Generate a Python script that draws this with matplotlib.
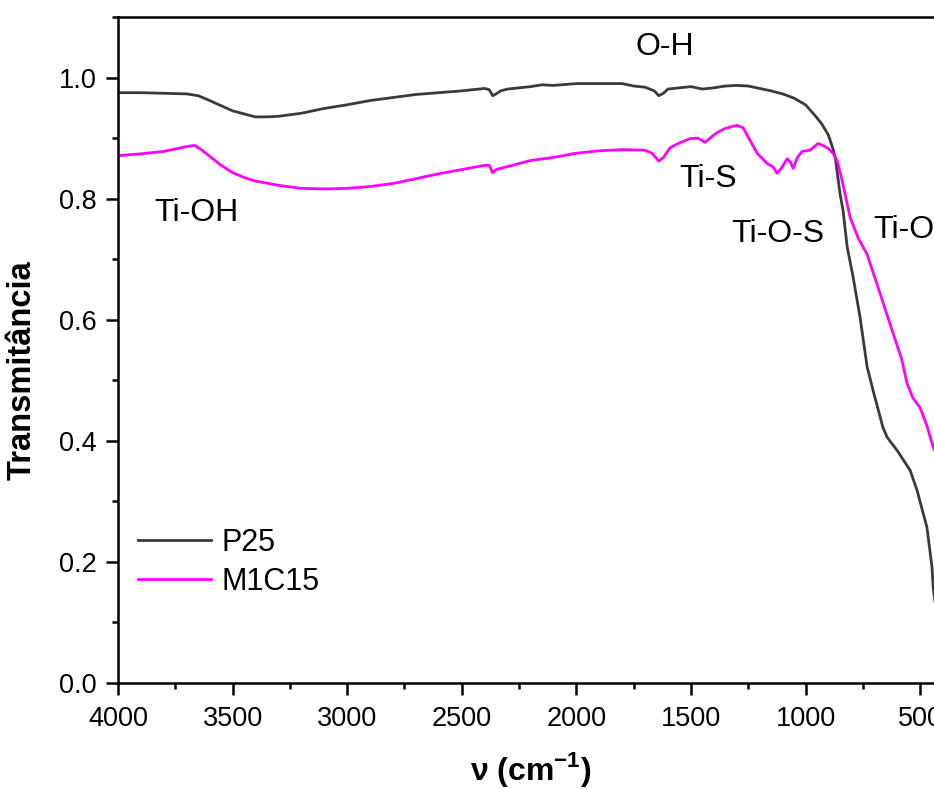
import matplotlib
matplotlib.use("Agg")
import matplotlib.pyplot as plt
from matplotlib.ticker import MultipleLocator

plt.rcParams['font.family'] = ['Liberation Sans', 'DejaVu Sans']

# FTIR spectra
wn_p25 = [4000, 3900, 3800, 3700, 3650, 3600, 3500, 3400, 3350, 3300, 3200, 3100,
          3000, 2900, 2800, 2700, 2600, 2500, 2400, 2380, 2365, 2350, 2330, 2300,
          2200, 2150, 2100, 2000, 1900, 1800, 1750, 1700, 1660, 1640, 1620, 1600,
          1550, 1500, 1450, 1400, 1350, 1300, 1250, 1200, 1150, 1100, 1050, 1000,
          960, 930, 900, 880, 870, 850, 836, 818, 792, 762, 731, 705, 662, 644,
          600, 543, 513, 470, 448, 443, 430, 400]
t_p25 = [0.975, 0.975, 0.974, 0.973, 0.970, 0.962, 0.945, 0.935, 0.935, 0.936, 0.941, 0.949,
         0.955, 0.962, 0.967, 0.972, 0.975, 0.978, 0.982, 0.980, 0.970, 0.973, 0.978, 0.981,
         0.985, 0.988, 0.987, 0.990, 0.990, 0.990, 0.986, 0.984, 0.978, 0.970, 0.974, 0.981,
         0.983, 0.985, 0.981, 0.983, 0.986, 0.987, 0.986, 0.982, 0.978, 0.973, 0.966, 0.955,
         0.938, 0.924, 0.905, 0.882, 0.868, 0.810, 0.780, 0.720, 0.670, 0.604, 0.522, 0.483, 0.422, 0.406,
         0.384, 0.351, 0.318, 0.257, 0.191, 0.158, 0.120, 0.050]

wn_m1c15 = [4000, 3900, 3800, 3750, 3700, 3665, 3640, 3600, 3550, 3500, 3450, 3400,
            3300, 3200, 3100, 3000, 2900, 2800, 2700, 2600, 2500, 2400, 2380, 2365,
            2350, 2330, 2300, 2200, 2100, 2000, 1900, 1800, 1700, 1670, 1640, 1620,
            1591, 1550, 1504, 1470, 1438, 1410, 1386, 1350, 1300, 1272, 1240, 1211,
            1167, 1140, 1124, 1105, 1080, 1065, 1054, 1035, 1015, 980, 945, 925,
            901, 880, 862, 840, 805, 770, 731, 675, 618, 580, 557, 530, 500, 470,
            443, 420, 400]
t_m1c15 = [0.871, 0.874, 0.878, 0.882, 0.886, 0.888, 0.882, 0.870, 0.855, 0.843, 0.835, 0.829,
           0.822, 0.817, 0.816, 0.817, 0.820, 0.825, 0.833, 0.841, 0.848, 0.855, 0.855, 0.843,
           0.848, 0.850, 0.853, 0.863, 0.868, 0.875, 0.879, 0.881, 0.880, 0.875, 0.862, 0.868,
           0.884, 0.892, 0.899, 0.900, 0.893, 0.902, 0.909, 0.916, 0.921, 0.917, 0.895, 0.875,
           0.858, 0.852, 0.842, 0.850, 0.866, 0.860, 0.850, 0.868, 0.878, 0.880, 0.891, 0.888,
           0.883, 0.875, 0.863, 0.830, 0.769, 0.735, 0.708, 0.644, 0.578, 0.535, 0.495, 0.470, 0.455, 0.425,
           0.390, 0.370, 0.340]

labels = ["O-H", "Ti-OH", "Ti-S", "Ti-O-S", "Ti-O"]
label_x = [1613, 3660, 1425, 1120, 705]
label_y = [1.05, 0.776, 0.833, 0.741, 0.749]
label_ha = ["center", "center", "center", "center", "left"]

fig = plt.figure(figsize=(9.34, 7.89), dpi=100)
ax = fig.add_axes([118 / 934, 106 / 789, 825 / 934, 666 / 789])

ax.plot(wn_p25, t_p25, color="#3a3a3a", lw=2.0, label="P25")
ax.plot(wn_m1c15, t_m1c15, color="#ff00ff", lw=2.0, label="M1C15")

for txt, x, y, ha in zip(labels, label_x, label_y, label_ha):
    ax.text(x, y, txt, fontsize=23, ha=ha, va="center")

ax.set_xlim(4000, 400)
ax.set_ylim(0, 1.1)
ax.xaxis.set_major_locator(MultipleLocator(500))
ax.xaxis.set_minor_locator(MultipleLocator(250))
ax.yaxis.set_major_locator(MultipleLocator(0.2))
ax.yaxis.set_minor_locator(MultipleLocator(0.1))
ax.tick_params(which="major", direction="out", length=8.5, width=1.8, labelsize=19.5)
ax.tick_params(axis="x", pad=8)
ax.tick_params(axis="y", pad=7)
ax.tick_params(which="minor", direction="out", length=4.5, width=1.8)
for sp in ax.spines.values():
    sp.set_linewidth(1.8)

ax.set_xlabel(r"ν (cm$^{\mathregular{-1}}$)", fontsize=23, fontweight="bold")
ax.xaxis.set_label_coords(0.5, -0.101)
ax.set_ylabel("Transmitância", fontsize=23.5, fontweight="bold")
ax.yaxis.set_label_coords(-0.098, 0.47)

ax.legend(loc="upper left", bbox_to_anchor=(0.024, 0.233), frameon=False, fontsize=22,
          handlelength=2.4, labelspacing=0.3, borderaxespad=0, borderpad=0, handletextpad=0.35)

fig.savefig("out.png", dpi=100)
